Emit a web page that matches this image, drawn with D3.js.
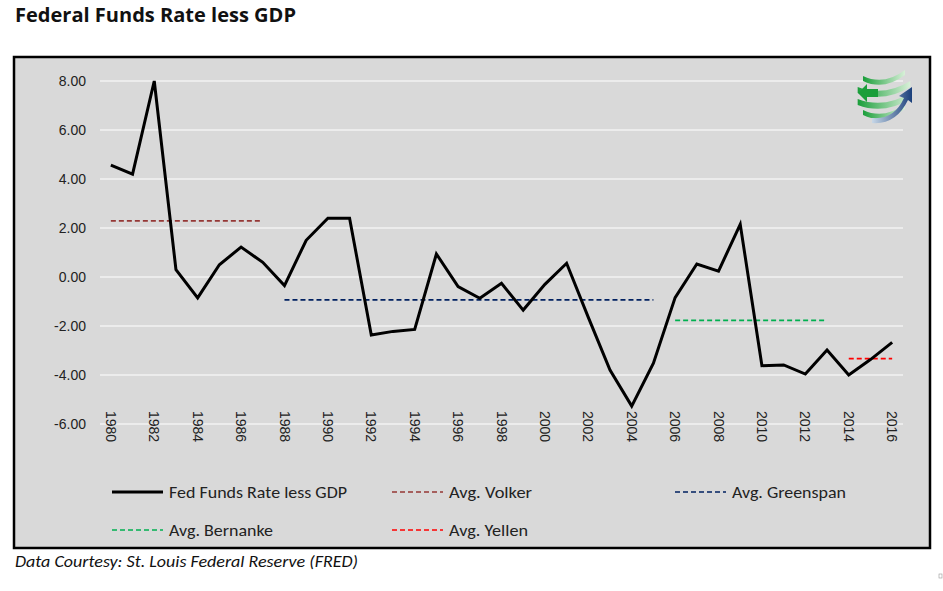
<!DOCTYPE html>
<html><head><meta charset="utf-8">
<script src="https://cdn.jsdelivr.net/npm/d3@7"></script>
<style>
body{margin:0;background:#fff;}
svg{display:block;}
</style></head>
<body>
<svg id="c" width="943" height="591"></svg>
<script>
const years = d3.range(1980, 2017);
const fedLessGdp = [4.57, 4.2, 8.0, 0.3, -0.85, 0.5, 1.22, 0.6, -0.35, 1.5, 2.4, 2.4, -2.37, -2.22, -2.14, 0.94, -0.39, -0.87, -0.26, -1.35, -0.3, 0.56, -1.65, -3.8, -5.27, -3.52, -0.84, 0.53, 0.24, 2.15, -3.62, -3.59, -3.96, -2.98, -4.0, -3.37, -2.67];
const volkerYears = [1980, 1987];
const volkerAvg = [2.29, 2.29];
const greenspanYears = [1988, 2005];
const greenspanAvg = [-0.93, -0.93];
const bernankeYears = [2006, 2013];
const bernankeAvg = [-1.77, -1.77];
const yellenYears = [2014, 2016];
const yellenAvg = [-3.33, -3.33];
const yTicks = [-6, -4, -2, 0, 2, 4, 6, 8];
const xTickYears = years.filter(y => y % 2 === 0);
const legendNames = ["Fed Funds Rate less GDP", "Avg. Volker", "Avg. Greenspan", "Avg. Bernanke", "Avg. Yellen"];
const legendColors = ["#000", "#953735", "#002060", "#00b050", "#ff0000"];

const svg = d3.select("#c");
const font = "'Liberation Sans', Arial, sans-serif";
const cal = "Carlito, 'Open Sans', sans-serif";

// title
svg.append("text").attr("x", 15).attr("y", 22)
  .style("font-family", "'Open Sans', sans-serif").style("font-weight", "700")
  .style("font-size", "19.5px").attr("textLength", 281).attr("lengthAdjust","spacingAndGlyphs")
  .attr("fill", "#111").text("Federal Funds Rate less GDP");

// chart background
svg.append("rect").attr("x", 14).attr("y", 57).attr("width", 916).attr("height", 491)
  .attr("fill", "#d9d9d9").attr("stroke", "#000").attr("stroke-width", 2.5);

const x = d3.scaleBand().domain(years).range([100, 903]).paddingInner(0).paddingOuter(0);
const cx = yr => x(yr) + x.bandwidth() / 2;
const y = d3.scaleLinear().domain([-6, 8]).range([424, 81]);

// gridlines
svg.append("g").selectAll("line").data(yTicks).join("line")
  .attr("x1", 100).attr("x2", 903).attr("y1", d => y(d)).attr("y2", d => y(d))
  .attr("stroke", "#fff").attr("stroke-width", 1.2);

// y axis
const ya = svg.append("g").attr("transform", "translate(86,0)")
  .call(d3.axisLeft(y).tickValues(yTicks).tickSize(0).tickPadding(0).tickFormat(d => d.toFixed(2)));
ya.select(".domain").remove();
ya.selectAll("text").style("font-family", font).style("font-size", "14px").attr("fill", "#222");

// x axis
const xa = svg.append("g").attr("transform", "translate(0,411)")
  .call(d3.axisBottom(x).tickValues(xTickYears).tickSize(0).tickPadding(0));
xa.select(".domain").remove();
xa.selectAll("text").style("font-family", font).style("font-size", "14px").attr("fill", "#222")
  .attr("text-anchor", "start").attr("x", 0).attr("y", 0).attr("dy", "0.35em")
  .attr("transform", "rotate(90)");

// averages
const line = d3.line().x(d => cx(d[0])).y(d => y(d[1]));
const avgs = [
  [volkerYears, volkerAvg, legendColors[1]],
  [greenspanYears, greenspanAvg, legendColors[2]],
  [bernankeYears, bernankeAvg, legendColors[3]],
  [yellenYears, yellenAvg, legendColors[4]]
];
avgs.forEach(([ys, vs, col]) => {
  svg.append("path").datum(ys.map((yr, i) => [yr, vs[i]])).attr("d", line)
    .attr("fill", "none").attr("stroke", col).attr("stroke-width", 1.8).attr("stroke-dasharray", "5,3");
});

// main line
svg.append("path").datum(years.map((yr, i) => [yr, fedLessGdp[i]])).attr("d", line)
  .attr("fill", "none").attr("stroke", "#000").attr("stroke-width", 3).attr("stroke-linejoin", "miter");

// legend
const legPos = [[112, 492], [392, 492], [675, 492], [112, 530], [392, 530]];
const legWidths = [178, 83, 114, 104, 79];
legendNames.forEach((name, i) => {
  const [lx, ly] = legPos[i];
  svg.append("line").attr("x1", lx).attr("x2", lx + 51).attr("y1", ly).attr("y2", ly)
    .attr("stroke", legendColors[i]).attr("stroke-width", i === 0 ? 3 : 1.6)
    .attr("stroke-dasharray", i === 0 ? null : "5,3");
  svg.append("text").attr("x", lx + 57).attr("y", ly + 6)
    .style("font-family", cal).style("font-size", "16.5px").attr("fill", "#222")
    .attr("textLength", legWidths[i]).attr("lengthAdjust", "spacingAndGlyphs").text(name);
});

// footer
svg.append("text").attr("x", 15).attr("y", 567)
  .style("font-family", cal).style("font-style", "italic").style("font-size", "16.5px")
  .attr("textLength", 343).attr("lengthAdjust", "spacingAndGlyphs")
  .attr("fill", "#111").text("Data Courtesy: St. Louis Federal Reserve (FRED)");

// small marker
svg.append("rect").attr("x", 939).attr("y", 574).attr("width", 3).attr("height", 4)
  .attr("fill", "none").attr("stroke", "#999").attr("stroke-width", 0.6);

// logo
const logo = svg.append("g").attr("transform", "translate(884,96)");
const defs = svg.append("defs");
const g1 = defs.append("linearGradient").attr("id", "lg").attr("x1", "0").attr("x2", "1").attr("y1","0").attr("y2","0");
g1.append("stop").attr("offset", "0").attr("stop-color", "#1a9e3a");
g1.append("stop").attr("offset", "1").attr("stop-color", "#d8f0d8");
const g2 = defs.append("linearGradient").attr("id", "lb").attr("x1", "0").attr("x2", "1");
g2.append("stop").attr("offset", "0").attr("stop-color", "#c8d8e8");
g2.append("stop").attr("offset", "1").attr("stop-color", "#1a3f7a");
[[-20, 5], [-9, 6], [3, 6], [14, 5]].forEach(([dy, h]) => {
  const r = 27;
  const w = Math.sqrt(Math.max(0, r * r - (dy + 3) * (dy + 3)));
  logo.append("path")
    .attr("d", `M${-w},${dy} Q0,${dy + 10} ${w},${dy - 6} L${w},${dy - 6 + h} Q0,${dy + 10 + h} ${-w},${dy + h} Z`)
    .attr("fill", "url(#lg)");
});
logo.append("path").attr("d", "M-12,22 Q10,24 20,2 L15,0 L28,-9 L28,7 L24,4 Q12,29 -12,27 Z")
  .attr("fill", "url(#lb)");
logo.append("path").attr("d", "M-26,-3 L-17,-12 L-17,-7 L-6,-7 L-6,1 L-17,1 L-17,6 Z").attr("fill", "#1a9e3a");
</script>
</body></html>
